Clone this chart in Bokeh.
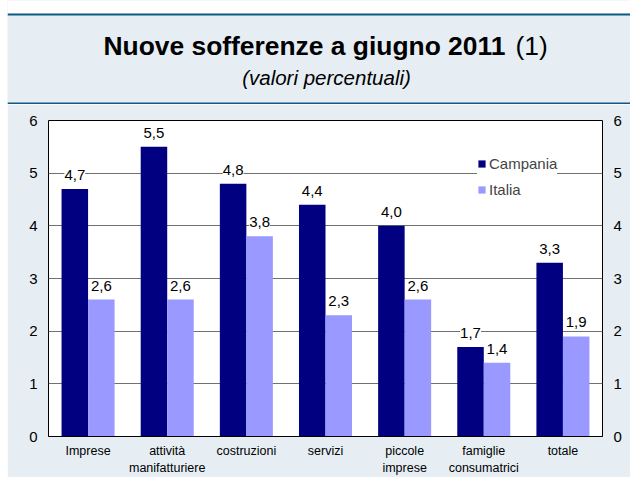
from bokeh.plotting import figure
from bokeh.layouts import column, row
from bokeh.models import (ColumnDataSource, FactorRange, Range1d, LinearAxis, Legend,
                          LegendItem, LabelSet, Label, BoxAnnotation, FixedTicker,
                          Spacer)
from bokeh.transform import dodge
from bokeh.core.properties import value
from bokeh.embed import file_html
from bokeh.resources import INLINE

# ---- data ----
label_line1 = ["Imprese", "attività", "costruzioni", "servizi",
               "piccole", "famiglie", "totale"]
label_line2 = ["", "manifatturiere", "", "", "imprese", "consumatrici", ""]
campania = [4.7, 5.5, 4.8, 4.4, 4.0, 1.7, 3.3]
italia = [2.6, 2.6, 3.8, 2.3, 2.6, 1.4, 1.9]
series_names = ["Campania", "Italia"]
y_ticks = [0, 1, 2, 3, 4, 5, 6]

title_main = "Nuove sofferenze a giugno 2011"
title_note = "(1)"
subtitle = "(valori percentuali)"

# ---- styles ----
FONT = "Liberation Sans"
BG = "#E6EEF4"
DARK = "#0E5A86"
C_CAMP = "#000080"
C_ITA = "#9999FF"
GRID = "#707070"
LEFT_PAD = 7
W = 630 - LEFT_PAD
HEADER_H = 104
MAIN_H = 477 - HEADER_H


def fmt(v):
    return f"{v:.1f}".replace(".", ",")


# two-level factors: (second line, first line) -> first line drawn next to the axis,
# second line drawn below it; blank second lines made unique with spaces
groups = []
for i, s in enumerate(label_line2):
    groups.append(s if s else " " * (i + 1))
factors = list(zip(groups, label_line1))

# ---------------- header ----------------
h = figure(width=W, height=HEADER_H, x_range=Range1d(LEFT_PAD, 630),
           y_range=Range1d(HEADER_H, 0), output_backend="svg",
           toolbar_location=None, x_axis_type=None, y_axis_type=None,
           min_border=0, outline_line_color=None,
           background_fill_color=BG, border_fill_color=BG)
h.xgrid.visible = False
h.ygrid.visible = False
try:
    h.frame_align = False
except Exception:
    pass


def hbox(top, bottom, color):
    h.add_layout(BoxAnnotation(left=LEFT_PAD, right=630, top=top, bottom=bottom,
                               fill_color=color, fill_alpha=1, line_color=None))


hbox(0, 13, "white")
hbox(13, 15, DARK)
hbox(102, 104, DARK)

h.add_layout(Label(x=103, y=45, text=title_main, text_font=FONT,
                   text_font_size="26.4px", text_font_style="bold",
                   text_align="left", text_baseline="alphabetic",
                   text_color="black"))
h.add_layout(Label(x=515, y=45, text=title_note, text_font=FONT,
                   text_font_size="26.4px", text_align="left",
                   text_baseline="alphabetic", text_color="black"))
h.add_layout(Label(x=326, y=77, text=subtitle, text_font=FONT,
                   text_font_size="20.5px", text_font_style="italic",
                   text_align="center", text_baseline="alphabetic",
                   text_color="black"))

# ---------------- main chart ----------------
src = ColumnDataSource(dict(
    cat=factors,
    campania=campania,
    italia=italia,
    campania_lbl=[fmt(v) for v in campania],
    italia_lbl=[fmt(v) for v in italia],
))

xr = FactorRange(*factors, group_padding=0, factor_padding=0, range_padding=0)
p = figure(x_range=xr, y_range=Range1d(0, 6),
           width=W, height=MAIN_H, output_backend="svg", toolbar_location=None,
           min_border_left=41, min_border_right=28, min_border_top=16,
           min_border_bottom=41, border_fill_color=BG,
           background_fill_color="white", outline_line_color="black",
           outline_line_width=1)
try:
    p.frame_align = False
except Exception:
    pass

BW = 0.335
off = BW / 2
r1 = p.vbar(x=dodge("cat", -off, range=p.x_range), top="campania", width=BW,
            source=src, fill_color=C_CAMP, line_color=None)
r2 = p.vbar(x=dodge("cat", off, range=p.x_range), top="italia", width=BW,
            source=src, fill_color=C_ITA, line_color=None)

# y axes
p.yaxis.ticker = FixedTicker(ticks=y_ticks)
right_axis = LinearAxis(ticker=FixedTicker(ticks=y_ticks))
p.add_layout(right_axis, "right")
for ax in p.yaxis:
    ax.major_tick_out = 0
    ax.major_tick_in = 0
    ax.minor_tick_out = 0
    ax.minor_tick_in = 0
    ax.axis_line_color = None
    ax.major_label_standoff = 11
    ax.major_label_text_font = FONT
    ax.major_label_text_font_size = "15px"
    ax.major_label_text_color = "black"

xa = p.xaxis[0]
xa.major_tick_out = 7           # invisible, only used as label offset
xa.major_tick_in = 0
xa.major_tick_line_color = None
xa.major_label_standoff = 0
xa.major_label_text_font = FONT
xa.major_label_text_font_size = "12.5px"
xa.major_label_text_color = "black"
xa.major_label_orientation = "horizontal"
xa.group_text_font = FONT
xa.group_text_font_size = "12.5px"
xa.group_text_font_style = "normal"
xa.group_text_color = "black"
xa.group_label_orientation = "horizontal"
xa.separator_line_color = None
xa.axis_line_color = "black"

p.xgrid.visible = False
p.ygrid.ticker = FixedTicker(ticks=y_ticks)
p.ygrid.grid_line_color = GRID
p.ygrid.grid_line_width = 1

# value labels
for key, sign in (("campania", -1), ("italia", 1)):
    ls = LabelSet(x=dodge("cat", sign * off, range=p.x_range), y=key,
                  text=key + "_lbl", source=src, text_align="center",
                  text_baseline="alphabetic", y_offset=9,
                  text_font=value(FONT), text_font_size="15px",
                  text_color="black", background_fill_color="white")
    p.add_layout(ls)

# legend
legend = Legend(items=[LegendItem(label=series_names[0], renderers=[r1]),
                       LegendItem(label=series_names[1], renderers=[r2])],
                location=(429, 237), glyph_width=9, glyph_height=9,
                label_standoff=3, padding=9, spacing=6, label_height=20,
                label_text_font=FONT, label_text_font_size="15px",
                border_line_color=None, background_fill_color="white",
                background_fill_alpha=1, margin=0)
p.add_layout(legend)

layout = row(Spacer(width=LEFT_PAD, height=477), column(h, p, spacing=0), spacing=0)

open("out.html", "w").write(file_html(layout, INLINE))
